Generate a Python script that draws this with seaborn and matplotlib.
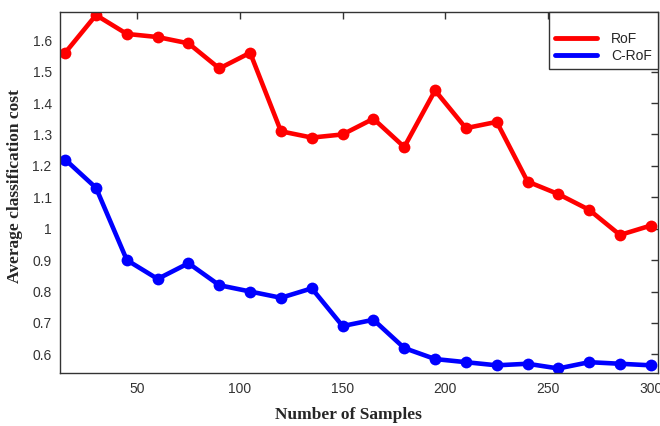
import numpy as np
import pandas as pd
import seaborn as sns
import matplotlib.pyplot as plt

samples = list(range(15, 301, 15))
rof = [1.56, 1.68, 1.62, 1.61, 1.59, 1.51, 1.56, 1.31, 1.29, 1.30,
       1.35, 1.26, 1.44, 1.32, 1.34, 1.15, 1.11, 1.06, 0.98, 1.01]
crof = [1.22, 1.13, 0.90, 0.84, 0.89, 0.82, 0.80, 0.78, 0.81, 0.69,
        0.71, 0.62, 0.585, 0.575, 0.565, 0.57, 0.555, 0.575, 0.57, 0.565]
series_names = ['RoF', 'C-RoF']
colors = ['#ff0000', '#0000ff']

df = pd.DataFrame({
    'n': samples * 2,
    'cost': rof + crof,
    'method': [series_names[0]] * len(samples) + [series_names[1]] * len(samples),
})

sns.set_style('white')
fig = plt.figure(figsize=(6.6, 4.26), dpi=100)
ax = fig.add_axes([0.091, 0.124, 0.906, 0.848])

sns.lineplot(data=df, x='n', y='cost', hue='method', palette=colors,
             marker='o', markersize=8.5, markeredgewidth=0, linewidth=3.3,
             ax=ax, legend=False)

ax.set_xlim(12.5, 303.5)
ax.set_ylim(0.54, 1.69)
ax.set_xticks([50, 100, 150, 200, 250, 300])
ax.set_yticks(np.round(np.arange(0.6, 1.61, 0.1), 1))
ax.set_yticklabels(['0.6', '0.7', '0.8', '0.9', '1', '1.1', '1.2', '1.3', '1.4', '1.5', '1.6'])
ax.tick_params(direction='in', length=5, width=1, top=True, right=True,
               labelsize=10, labelcolor='#333333', color='#333333', pad=6)
for lab in ax.get_xticklabels() + ax.get_yticklabels():
    lab.set_family('Liberation Sans')
for s in ax.spines.values():
    s.set_color('#333333')
    s.set_linewidth(1)

ax.set_xlabel('Number of Samples', family='Liberation Serif', fontweight='bold',
              fontsize=12.5, va='center')
ax.set_ylabel('Average classification cost', family='Liberation Serif', fontweight='bold',
              fontsize=12.5, va='center')
ax.xaxis.set_label_coords(0.483, -0.116)
ax.yaxis.set_label_coords(-0.075, 0.518)

handles = [plt.Line2D([], [], color=c, lw=3.5) for c in colors]
leg = ax.legend(handles, series_names, loc='upper right', fancybox=False,
                edgecolor='#333333', framealpha=1, borderaxespad=0,
                prop={'family': 'Liberation Sans', 'size': 10},
                title=' ', title_fontsize=7,
                handlelength=3, handletextpad=1.0, borderpad=0.45, labelspacing=0.25)
leg.get_frame().set_linewidth(1)

fig.savefig('out.png', dpi=100)
